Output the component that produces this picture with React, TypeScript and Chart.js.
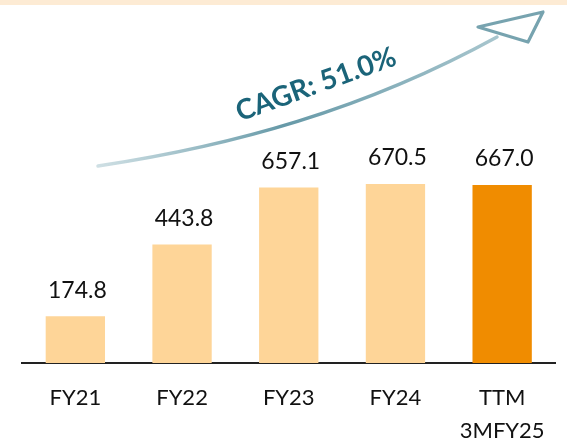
import React, { useEffect, useRef } from "react";
import { Chart, registerables } from "chart.js";

Chart.register(...registerables);

const categories: (string | string[])[] = ["FY21", "FY22", "FY23", "FY24", ["TTM", "3MFY25"]];
const values: number[] = [174.8, 443.8, 657.1, 670.5, 667.0];
const valueLabels: string[] = ["174.8", "443.8", "657.1", "670.5", "667.0"];
const barColors: string[] = ["#FED598", "#FED598", "#FED598", "#FED598", "#F08C00"];
const cagrText = "CAGR: 51.0%";

const decorPlugin = {
  id: "decor",
  beforeDraw(chart: any) {
    const ctx = chart.ctx;
    ctx.save();
    ctx.fillStyle = "#FDEBD4";
    ctx.fillRect(0, 0, chart.width, 5);
    ctx.restore();
  },
  afterDatasetsDraw(chart: any) {
    const ctx = chart.ctx;
    const meta = chart.getDatasetMeta(0);
    ctx.save();
    ctx.font = "23px Lato";
    ctx.fillStyle = "#111111";
    ctx.textAlign = "center";
    ctx.textBaseline = "middle";
    meta.data.forEach((bar: any, i: number) => {
      ctx.fillText(valueLabels[i], bar.x + 2, bar.y - 26);
    });
    ctx.restore();

    // swoosh arrow
    ctx.save();
    const grad = ctx.createLinearGradient(98, 166, 497, 37);
    grad.addColorStop(0, "rgba(95,150,165,0.3)");
    grad.addColorStop(0.45, "rgba(75,135,152,0.85)");
    grad.addColorStop(1, "rgba(95,150,165,0.55)");
    ctx.strokeStyle = grad;
    ctx.lineCap = "round";
    ctx.lineWidth = 3.5;
    ctx.beginPath();
    ctx.moveTo(98, 166);
    ctx.bezierCurveTo(231, 146, 364, 110, 497, 37);
    ctx.stroke();
    ctx.lineWidth = 3.2;
    ctx.lineJoin = "round";
    ctx.strokeStyle = "rgba(85,140,155,0.8)";
    ctx.beginPath();
    ctx.moveTo(478, 27);
    ctx.lineTo(543, 12);
    ctx.lineTo(528, 42);
    ctx.closePath();
    ctx.stroke();
    ctx.restore();

    ctx.save();
    ctx.translate(319, 93);
    ctx.rotate((-19.9 * Math.PI) / 180);
    ctx.font = "bold 28px Lato";
    ctx.fillStyle = "#1B6479";
    ctx.textAlign = "center";
    ctx.textBaseline = "alphabetic";
    ctx.fillText(cagrText, 0, 0);
    ctx.restore();
  },
};

export default function App() {
  const ref = useRef<HTMLCanvasElement>(null);
  useEffect(() => {
    const chart = new Chart(ref.current!, {
      type: "bar",
      data: {
        labels: categories,
        datasets: [
          {
            data: values,
            backgroundColor: barColors,
            barPercentage: 0.556,
            categoryPercentage: 1,
          },
        ],
      },
      options: {
        animation: false,
        responsive: false,
        devicePixelRatio: 1,
        layout: { padding: { top: 16, left: 22, right: 11.5, bottom: 0 } },
        plugins: { legend: { display: false }, tooltip: { enabled: false } },
        scales: {
          x: {
            grid: { display: false, drawTicks: false },
            border: { display: true, color: "#222222", width: 2 },
            ticks: {
              color: "#111111",
              padding: 18,
              maxRotation: 0,
              autoSkip: false,
              font: { family: "Lato", size: 22, lineHeight: 1.52 },
            },
            afterFit: (scale: any) => {
              scale.height = 78;
            },
          },
          y: { display: false, min: 0, max: 1300 },
        },
      },
      plugins: [decorPlugin],
    });
    return () => chart.destroy();
  }, []);
  return (
    <div style={{ position: "fixed", left: 0, top: 0, width: 567, height: 441, background: "#fff" }}>
      <canvas ref={ref} width={567} height={441} />
    </div>
  );
}
